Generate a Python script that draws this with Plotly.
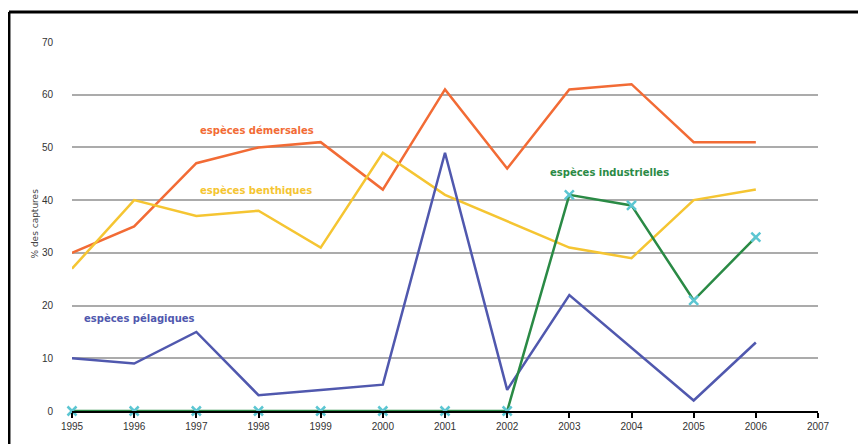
import plotly.graph_objects as go

years = [1995, 1996, 1997, 1998, 1999, 2000, 2001, 2002, 2003, 2004, 2005, 2006]
demersales = [30, 35, 47, 50, 51, 42, 61, 46, 61, 62, 51, 51]
benthiques = [27, 40, 37, 38, 31, 49, 41, 36, 31, 29, 40, 42]
pelagiques = [10, 9, 15, 3, 4, 5, 49, 4, 22, 12, 2, 13]
industrielles = [0, 0, 0, 0, 0, 0, 0, 0, 41, 39, 21, 33]
x_ticks = list(range(1995, 2008))
y_ticks = [0, 10, 20, 30, 40, 50, 60, 70]

c_dem = "#F26B35"
c_ben = "#F5C532"
c_pel = "#5058AE"
c_ind = "#2A8A45"
c_mark = "#5CC6D2"

fig = go.Figure()
fig.add_trace(go.Scatter(x=years, y=demersales, mode="lines", line=dict(color=c_dem, width=2.5), cliponaxis=False))
fig.add_trace(go.Scatter(x=years, y=benthiques, mode="lines", line=dict(color=c_ben, width=2.5), cliponaxis=False))
fig.add_trace(go.Scatter(x=years, y=pelagiques, mode="lines", line=dict(color=c_pel, width=2.5), cliponaxis=False))
fig.add_trace(go.Scatter(x=years, y=industrielles, mode="lines+markers",
                         line=dict(color=c_ind, width=2.5),
                         marker=dict(symbol="x-thin", size=9, line=dict(color=c_mark, width=2.5), color=c_mark),
                         cliponaxis=False))

ann_font = dict(family="DejaVu Sans", size=10)
annots = [
    dict(x=1997.98, y=53.3, text="<b>espèces démersales</b>", font=dict(color=c_dem, **ann_font)),
    dict(x=1997.96, y=41.9, text="<b>espèces benthiques</b>", font=dict(color=c_ben, **ann_font)),
    dict(x=1996.09, y=17.6, text="<b>espèces pélagiques</b>", font=dict(color=c_pel, **ann_font)),
    dict(x=2003.65, y=45.3, text="<b>espèces industrielles</b>", font=dict(color=c_ind, **ann_font)),
]
for a in annots:
    a.update(xref="x", yref="y", showarrow=False)
annots.append(dict(xref="paper", yref="paper", x=-0.0590, y=0.508, text="% des captures",
                   textangle=-90, showarrow=False,
                   font=dict(family="DejaVu Sans", size=9, color="#444")))

fig.update_layout(
    width=866, height=444,
    margin=dict(l=64, r=56, t=34, b=41),
    paper_bgcolor="white", plot_bgcolor="white",
    showlegend=False,
    annotations=annots,
    font=dict(family="Liberation Sans, Arial", size=10, color="#333"),
    shapes=[
        dict(type="line", xref="paper", yref="paper", x0=-0.0845, x1=1.1, y0=1.0813, y1=1.0813,
             line=dict(color="black", width=3)),
        dict(type="line", xref="paper", yref="paper", x0=-0.0845, x1=-0.0845, y0=1.0813, y1=-0.12,
             line=dict(color="black", width=3)),
    ],
)
fig.update_xaxes(range=[1995, 2007], tickvals=x_ticks, ticktext=[str(v) for v in x_ticks],
                 showgrid=False, zeroline=False, showline=True, linecolor="black", linewidth=1.5,
                 ticks="outside", ticklen=5, tickcolor="black", tickwidth=1.5,
                 tickfont=dict(size=10, color="#333"))
fig.update_yaxes(range=[0, 70], tickvals=y_ticks, showgrid=True, gridcolor="#ABABAB", gridwidth=1.5,
                 zeroline=False, showline=False, ticks="", ticklabelstandoff=18,
                 tickfont=dict(size=10, color="#333"))

fig.write_html("out.html")
